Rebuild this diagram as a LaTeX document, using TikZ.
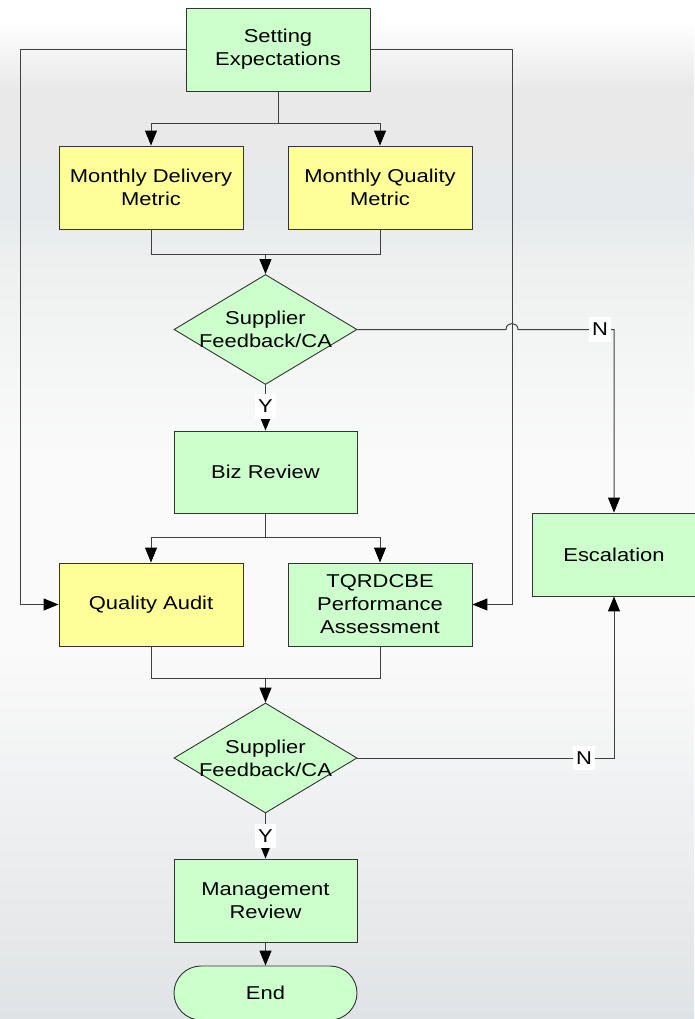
\documentclass[tikz,border=0pt]{standalone}
\usepackage{fontspec}
\setmainfont{Liberation Sans}[FakeStretch=1.18]
\usetikzlibrary{shapes.geometric,arrows.meta}
\definecolor{boxgreen}{HTML}{CCFFCC}
\definecolor{boxyellow}{HTML}{FFFF99}
\definecolor{bgA}{HTML}{E9E9E9}
\definecolor{bgB}{HTML}{E6EAEC}
\definecolor{bgD}{HTML}{EEF0F0}
\definecolor{bgW}{HTML}{FAFAFA}
\definecolor{bgC}{HTML}{E0E3E5}
\newcommand\figfont{\fontsize{18.6pt}{23pt}\selectfont}
\begin{document}
\begin{tikzpicture}[x=1pt,y=-1pt,
  box/.style={draw=black!80, line width=0.9pt, minimum width=184pt, minimum height=83pt,
    align=center, inner sep=0pt, font=\figfont, text=black},
  gbox/.style={box, fill=boxgreen},
  ybox/.style={box, fill=boxyellow},
  dia/.style={draw=black!80, line width=0.9pt, shape=diamond, fill=boxgreen,
    minimum width=183pt, minimum height=110pt, inner sep=0pt},
  dtext/.style={align=center, font=\figfont, text=black, inner sep=0pt},
  term/.style={draw=black!80, line width=0.9pt, fill=boxgreen, rectangle, rounded corners=27pt,
    minimum width=183pt, minimum height=54pt, font=\figfont, inner sep=0pt},
  conn/.style={draw=black!75, line width=1pt},
  arr/.style={conn, -{Triangle[length=15pt,width=12pt,fill=black,color=black]}},
  lbl/.style={fill=white, font=\figfont, inner xsep=3pt, inner ysep=6pt, text=black}
]
% background
\useasboundingbox (0,0) rectangle (694,1019);
\fill[white] (0,0) rectangle (694,20);
\shade[top color=white, bottom color=bgA] (0,20) rectangle (694,90);
\fill[bgA] (0,90) rectangle (694,160);
\shade[top color=bgA, bottom color=bgB] (0,160) rectangle (694,175);
\fill[bgB] (0,175) rectangle (694,215);
\shade[top color=bgB, bottom color=bgD] (0,215) rectangle (694,260);
\shade[top color=bgD, bottom color=bgW] (0,260) rectangle (694,455);
\fill[bgW] (0,455) rectangle (694,650);
\shade[top color=bgW, bottom color=bgC] (0,650) rectangle (694,1019);

% nodes
\node[gbox] (set) at (278,49.5) {Setting\\Expectations};
\node[ybox] (mdm) at (151,187.5) {Monthly Delivery\\Metric};
\node[ybox] (mqm) at (380,187.5) {Monthly Quality\\Metric};
\node[dia] (d1) at (265.5,329.5) {};
\node[dtext] (d1t) at (265.5,329.5) {Supplier\\Feedback/CA};
\node[gbox, minimum width=183pt, minimum height=82pt] (biz) at (265.5,472) {Biz Review};
\node[ybox] (qa) at (151,604.5) {Quality Audit};
\node[gbox] (tq) at (380,604.5) {TQRDCBE\\Performance\\Assessment};
\node[gbox, minimum width=164pt] (esc) at (614,554.5) {Escalation};
\node[dia] (d2) at (265.5,758) {};
\node[dtext] (d2t) at (265.5,758) {Supplier\\Feedback/CA};
\node[gbox, minimum width=183pt] (mr) at (265.5,900.5) {Management\\Review};
\node[term] (end) at (265.5,993) {End};

% coordinates
\coordinate (b1) at (278,124);
\coordinate (j1) at (265.5,254);
\coordinate (b2) at (265.5,537);
\coordinate (j2) at (265.5,678);
\coordinate (h1) at (506,329.5);
\coordinate (h2) at (518,329.5);
\coordinate (c1) at (614,329.5);
\coordinate (c2) at (614,758);
\coordinate (lft) at (20,49.5);
\coordinate (rgt) at (512,49.5);

% connectors
\draw[arr] (set.west) -- (lft) |- (qa.west);
\draw[arr] (set.east) -- (rgt) |- (tq.east);
\draw[conn] (set.south) -- (b1);
\draw[arr] (b1) -| (mdm.north);
\draw[arr] (b1) -| (mqm.north);
\draw[conn] (mdm.south) |- (j1);
\draw[conn] (mqm.south) |- (j1);
\draw[arr] (j1) -- (d1.north);
\draw[arr] (d1.east) -- (h1) .. controls (506,321.5) and (518,321.5) .. (h2) -- (c1) -- (esc.north);
\node[lbl] (n1) at (600,329.5) {N};
\draw[arr] (d1.south) -- (biz.north);
\node[lbl] (y1) at (265.5,406.5) {Y};
\draw[conn] (biz.south) -- (b2);
\draw[arr] (b2) -| (qa.north);
\draw[arr] (b2) -| (tq.north);
\draw[conn] (qa.south) |- (j2);
\draw[conn] (tq.south) |- (j2);
\draw[arr] (j2) -- (d2.north);
\draw[arr] (d2.east) -- (c2) -- (esc.south);
\node[lbl] (n2) at (584,758) {N};
\draw[arr] (d2.south) -- (mr.north);
\node[lbl] (y2) at (265.5,836) {Y};
\draw[arr] (mr.south) -- (end.north);
\end{tikzpicture}
\end{document}
